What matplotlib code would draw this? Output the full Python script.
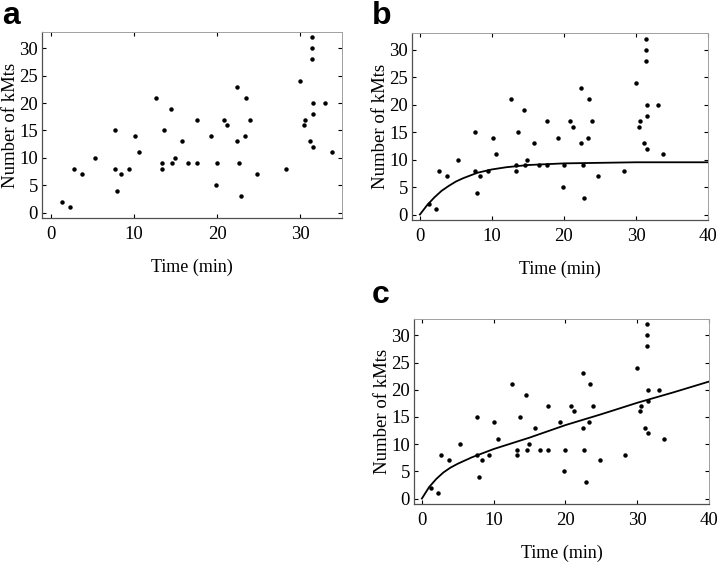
import matplotlib
matplotlib.use("Agg")

import matplotlib.pyplot as plt

# kinetochore microtubule counts vs time (same data in all panels)
time_min = [1.3, 2.3, 2.7, 3.75, 5.3, 7.7, 7.7, 7.9, 8.4, 9.4,
            10.1, 10.6, 12.6, 13.3, 13.3, 13.6, 14.45, 14.6, 14.9, 15.8,
            16.5, 17.6, 17.6, 19.2, 19.8, 20.0, 20.8, 21.2, 22.4, 22.4,
            22.6, 22.8, 23.3, 23.45, 23.9, 24.75, 28.3, 30.0, 30.4, 30.55,
            31.1, 31.4, 31.4, 31.4, 31.5, 31.5, 31.5, 33.0, 33.75]
num_kmts = [2, 1, 8, 7, 10, 15, 8, 4, 7, 8,
            14, 11, 21, 8, 9, 15, 19, 9, 10, 13,
            9, 17, 9, 14, 5, 9, 17, 16, 23, 13,
            9, 3, 14, 21, 17, 7, 8, 24, 16, 17,
            13, 32, 30, 28, 20, 18, 12, 20, 11]

# fitted curve in panel b (saturating)
fit_b_t = [0, 1, 2, 3, 4, 5, 6, 8, 10, 12, 15, 20, 25, 30, 40]
fit_b_y = [0, 1.7, 3.1, 4.3, 5.2, 6.0, 6.6, 7.6, 8.2, 8.6, 9.0, 9.3, 9.4, 9.5, 9.5]

# fitted curve in panel c (saturating + linear)
fit_c_t = [0, 1, 2, 3, 4, 5, 6, 7, 8, 10, 15, 20, 25, 30, 35, 40]
fit_c_y = [0, 2.1, 3.6, 4.8, 5.7, 6.4, 7.0, 7.6, 8.1, 9.1, 11.2, 13.5, 15.5, 17.6, 19.5, 21.5]

yticks = [0, 5, 10, 15, 20, 25, 30]

plt.rcParams['font.family'] = ['Liberation Serif', 'DejaVu Serif']

fig = plt.figure(figsize=(7.2, 5.63), dpi=100)

ax_a = fig.add_axes([0.0583, 0.6128, 0.4167, 0.3304])
ax_b = fig.add_axes([0.5722, 0.6092, 0.4111, 0.3321])
ax_c = fig.add_axes([0.575, 0.1048, 0.4097, 0.3286])


def style_axes(ax, xmax, xticks):
    ax.plot(time_min, num_kmts, 'o', color='black', markersize=3.2,
            markeredgewidth=0)
    ax.set_xlim(-1.1, xmax)
    ax.set_ylim(-1, 33)
    ax.set_xticks(xticks)
    ax.set_yticks(yticks)
    ax.tick_params(direction='in', length=3, width=0.8, labelsize=13.5,
                   top=True, right=True, pad=3)
    ax.tick_params(axis='x', pad=6)
    for side in ['top', 'right']:
        ax.spines[side].set_color('#a0a0a0')
        ax.spines[side].set_linewidth(0.7)
    for side in ['bottom', 'left']:
        ax.spines[side].set_color('#505050')
        ax.spines[side].set_linewidth(0.9)
    ax.set_ylabel('Number of kMts', fontsize=13.5, labelpad=0)
    ax.set_xlabel('Time (min)', fontsize=13, labelpad=11)


style_axes(ax_a, 35, [0, 10, 20, 30])
style_axes(ax_b, 40, [0, 10, 20, 30, 40])
style_axes(ax_c, 40, [0, 10, 20, 30, 40])

ax_b.plot(fit_b_t, fit_b_y, '-', color='black', linewidth=1.3)
ax_c.plot(fit_c_t, fit_c_y, '-', color='black', linewidth=1.3)

# panel letters
for letter, (x, y) in zip('abc', [(0.003, 0.957), (0.516, 0.957), (0.516, 0.462)]):
    fig.text(x, y, letter, fontsize=23, fontweight='bold',
             family=['Liberation Sans', 'DejaVu Sans'], va='baseline', ha='left')

fig.savefig('out.png', dpi=100)
